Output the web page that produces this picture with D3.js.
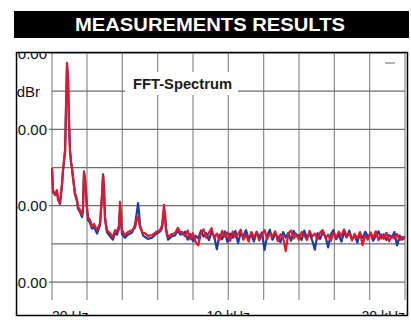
<!DOCTYPE html>
<html>
<head>
<meta charset="utf-8">
<script src="https://cdn.jsdelivr.net/npm/d3@7"></script>
<style>
  body { margin: 0; background: #fff; }
  svg { display: block; }
</style>
</head>
<body>
<div id="chart"></div>
<script>
// frequency grid in kHz (shared by both channels)
var freqKHz = [
  0.02, 0.08, 0.19, 0.30, 0.36, 0.47, 0.59, 0.64, 0.76, 0.81, 0.87, 0.93, 0.98, 1.04, 1.10, 1.15, 1.21, 1.32, 1.44, 1.49,
  1.60, 1.72, 1.77, 1.83, 1.89, 1.94, 2.00, 2.06, 2.17, 2.28, 2.40, 2.57, 2.74, 2.85, 2.91, 2.96, 3.02, 3.13, 3.30, 3.47,
  3.59, 3.70, 3.81, 3.87, 3.93, 3.98, 4.15, 4.32, 4.55, 4.72, 4.83, 4.89, 4.95, 5.00, 5.17, 5.28, 5.45, 5.68, 5.91, 6.13,
  6.25, 6.36, 6.42, 6.47, 6.59, 6.81, 6.98, 7.15, 7.26,
  7.40, 7.55, 7.70, 7.85, 8.00, 8.15, 8.30, 8.45, 8.60, 8.75, 8.90, 9.05, 9.20, 9.35, 9.50, 9.65, 9.80, 9.95,
  10.10, 10.25, 10.40, 10.55, 10.70, 10.85, 11.00, 11.15, 11.30, 11.45, 11.60, 11.75, 11.90, 12.05, 12.20, 12.35,
  12.50, 12.65, 12.80, 12.95, 13.10, 13.25, 13.40, 13.55, 13.70, 13.85, 14.00, 14.15, 14.30, 14.45, 14.60, 14.75,
  14.90, 15.05, 15.20, 15.35, 15.50, 15.65, 15.80, 15.95, 16.10, 16.25, 16.40, 16.55, 16.70, 16.85, 17.00, 17.15,
  17.30, 17.45, 17.60, 17.75, 17.90, 18.05, 18.20, 18.35, 18.50, 18.65, 18.80, 18.95, 19.10, 19.25, 19.40, 19.55,
  19.70, 19.85, 19.98
];

// right channel (red), dBr
var redDb = [
  -50.1, -55.9, -57.2, -55.9, -58.5, -59.3, -54.1, -50.7, -45.4, -34.9, -22.6, -27.1, -37.6, -45.4, -48.6, -49.9, -52.5, -56.7, -58.5, -60.3,
  -61.1, -62.4, -61.1, -51.4, -53.3, -55.9, -60.3, -63.0, -63.8, -65.3, -64.8, -66.4, -64.5, -57.2, -52.2, -55.4, -63.0, -66.4, -67.2, -68.2,
  -66.4, -66.9, -65.3, -59.0, -62.4, -66.4, -67.7, -66.9, -66.4, -65.8, -63.2, -63.0, -64.3, -65.6, -67.2, -67.2, -67.9, -67.7, -66.9, -66.4,
  -65.1, -59.8, -62.4, -65.8, -68.2, -67.4, -67.2, -65.8, -66.9,
  -66.9, -68.0, -66.5, -68.8, -67.2, -69.5, -70.4, -67.0, -66.2, -68.4, -67.1, -65.9, -68.6, -67.3, -69.0, -66.6, -68.1, -67.0,
  -69.2, -66.8, -68.3, -67.4, -66.3, -68.9, -67.6, -69.4, -66.9, -68.2, -67.0, -69.1, -67.7, -66.4, -68.7, -67.3,
  -68.0, -66.7, -69.3, -67.5, -68.4, -71.9, -67.2, -66.5, -68.6, -67.4, -68.9, -66.9, -67.8, -69.0, -66.6, -68.1,
  -67.3, -68.8, -67.0, -66.4, -68.5, -67.6, -69.2, -67.1, -68.3, -66.8, -67.9, -66.2, -68.0, -67.2, -69.1, -67.4,
  -68.6, -66.9, -70.3, -67.8, -68.9, -67.0, -68.4, -66.7, -69.0, -67.5, -68.7, -67.1, -69.3, -67.9, -68.6, -67.4,
  -69.0, -68.2, -68.8
];

// left channel (blue), dBr
var blueDb = [
  -50.5, -56.5, -57.0, -56.3, -58.0, -59.6, -54.5, -51.0, -45.8, -35.4, -23.0, -27.6, -38.0, -45.8, -48.9, -50.3, -52.8, -57.0, -58.9, -60.8,
  -61.6, -63.0, -61.5, -51.0, -53.0, -56.4, -61.0, -63.8, -64.5, -66.0, -65.6, -67.3, -65.0, -57.6, -51.8, -55.0, -63.5, -67.0, -68.0, -68.9,
  -67.0, -67.6, -66.0, -61.0, -64.0, -67.4, -68.4, -67.6, -67.0, -65.0, -61.5, -59.3, -62.0, -65.0, -67.8, -68.2, -68.7, -68.4, -67.4, -66.8,
  -65.8, -61.5, -62.4, -66.5, -68.9, -68.0, -67.8, -66.4, -67.5,
  -67.5, -66.8, -68.9, -67.4, -69.3, -67.9, -68.6, -66.5, -68.1, -67.2, -69.0, -66.9, -67.9, -71.4, -67.6, -68.8, -66.7, -69.5,
  -67.3, -68.4, -66.6, -69.8, -67.1, -68.0, -66.4, -68.7, -67.5, -69.4, -66.8, -68.2, -67.0, -71.6, -67.8, -66.3,
  -68.9, -67.4, -68.1, -69.6, -66.9, -68.3, -67.1, -69.2, -66.6, -68.0, -67.7, -69.0, -66.5, -68.4, -67.3, -69.1,
  -71.5, -67.2, -68.7, -66.9, -68.1, -70.9, -67.5, -66.4, -68.8, -67.6, -69.4, -67.0, -68.3, -66.5, -68.9, -67.8,
  -69.7, -67.2, -68.5, -66.8, -68.1, -67.4, -69.2, -67.9, -66.7, -68.6, -67.5, -69.0, -67.7, -68.4, -66.9, -70.4,
  -67.8, -68.9, -68.0
];

var xGrid = [0.02, 2, 4, 6, 8, 10, 12, 14, 16, 18, 20];
var yGrid = [-20, -30, -40, -50, -60, -70, -80];
var yLabels = [-20, -40, -60, -80];
var xLabels = [
  { f: 0.02, text: "20 Hz", anchor: "start" },
  { f: 10, text: "10 kHz", anchor: "middle" },
  { f: 20, text: "20 kHz", anchor: "end" }
];

var W = 411, H = 320;
var frame = { x: 16.5, y: 52.5, w: 391, h: 263 };

var svg = d3.select("#chart").append("svg")
  .attr("width", W)
  .attr("height", H);

svg.append("rect").attr("width", W).attr("height", H).attr("fill", "#fff");

// header bar
svg.append("rect")
  .attr("x", 14).attr("y", 11).attr("width", 395).attr("height", 27)
  .attr("fill", "#000");
svg.append("text")
  .attr("x", 210).attr("y", 31)
  .attr("text-anchor", "middle")
  .attr("font-family", "'Liberation Sans Narrow', 'Liberation Sans', Arial, sans-serif")
  .attr("font-weight", "bold")
  .attr("font-size", 18.5)
  .attr("textLength", 270)
  .attr("lengthAdjust", "spacingAndGlyphs")
  .attr("fill", "#fff")
  .text("MEASUREMENTS RESULTS");

// panel clip
svg.append("clipPath").attr("id", "panel")
  .append("rect")
  .attr("x", frame.x).attr("y", frame.y).attr("width", frame.w).attr("height", frame.h);

var panel = svg.append("g").attr("clip-path", "url(#panel)");

var x = d3.scaleLinear().domain([0.02, 20]).range([52, 405]);
var y = d3.scaleLinear().domain([-20, -84.7]).range([53, 300]);

// grid
panel.selectAll(".vgrid").data(xGrid).enter().append("line")
  .attr("x1", d => x(d)).attr("x2", d => x(d))
  .attr("y1", y(-20)).attr("y2", y(-84.7))
  .attr("stroke", "#8a8a8a").attr("stroke-width", 1.2);

panel.selectAll(".hgrid").data(yGrid).enter().append("line")
  .attr("x1", d => yLabels.indexOf(d) >= 0 ? 49 : x(0.02))
  .attr("x2", x(20))
  .attr("y1", d => y(d)).attr("y2", d => y(d))
  .attr("stroke", "#6e6e6e").attr("stroke-width", 1.2);

// y tick labels (left part cut by the frame, as in the source)
panel.selectAll(".ylab").data(yLabels).enter().append("text")
  .attr("x", 47).attr("y", d => y(d) + 5.5)
  .attr("text-anchor", "end")
  .attr("font-family", "'Liberation Sans', Arial, sans-serif")
  .attr("font-size", 15)
  .attr("fill", "#111")
  .text(d => d3.format(".2f")(d).replace("−", "-"));

panel.append("text")
  .attr("x", 40).attr("y", y(-30) + 5.5)
  .attr("text-anchor", "end")
  .attr("font-family", "'Liberation Sans', Arial, sans-serif")
  .attr("font-size", 15)
  .attr("fill", "#111")
  .text("dBr");

// x labels (mostly cut by the frame)
panel.selectAll(".xlab").data(xLabels).enter().append("text")
  .attr("x", d => x(d.f)).attr("y", 321)
  .attr("text-anchor", d => d.anchor)
  .attr("font-family", "'Liberation Sans', Arial, sans-serif")
  .attr("font-size", 14)
  .attr("fill", "#111")
  .text(d => d.text);

// title box
panel.append("rect")
  .attr("x", 125).attr("y", 72).attr("width", 113).attr("height", 23)
  .attr("fill", "#fff");
panel.append("text")
  .attr("x", 133).attr("y", 89)
  .attr("font-family", "'Liberation Sans', Arial, sans-serif")
  .attr("font-weight", "bold")
  .attr("font-size", 15)
  .attr("textLength", 99)
  .attr("lengthAdjust", "spacingAndGlyphs")
  .attr("fill", "#1a1a1a")
  .text("FFT-Spectrum");

// small legend mark top right
panel.append("line")
  .attr("x1", 385).attr("x2", 395).attr("y1", 63).attr("y2", 63)
  .attr("stroke", "#999").attr("stroke-width", 1.5);

// traces
var line = d3.line()
  .x(d => x(d[0]))
  .y(d => y(d[1]));

var blueData = freqKHz.map((f, i) => [f, blueDb[i]]);
var redData = freqKHz.map((f, i) => [f, redDb[i]]);

panel.append("path")
  .datum(blueData)
  .attr("d", line)
  .attr("fill", "none")
  .attr("stroke", "#1f3f9e")
  .attr("stroke-width", 2.2)
  .attr("stroke-linejoin", "round");

panel.append("path")
  .datum(redData)
  .attr("d", line)
  .attr("fill", "none")
  .attr("stroke", "#e3162f")
  .attr("stroke-width", 2.2)
  .attr("stroke-linejoin", "round");

// frame
svg.append("rect")
  .attr("x", frame.x).attr("y", frame.y).attr("width", frame.w).attr("height", frame.h)
  .attr("fill", "none")
  .attr("stroke", "#000")
  .attr("stroke-width", 1.5);
</script>
</body>
</html>
